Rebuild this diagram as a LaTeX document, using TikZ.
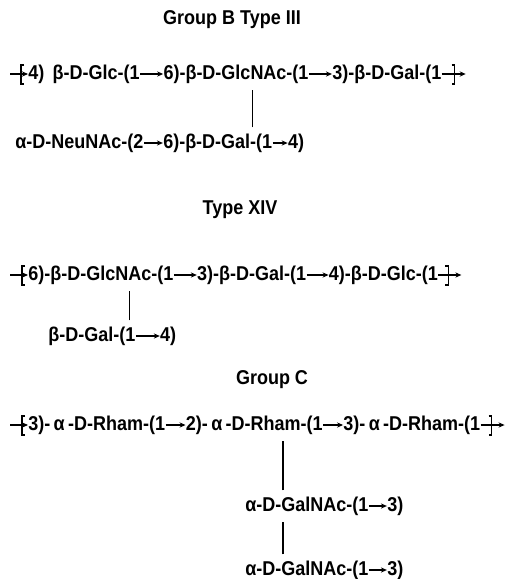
\documentclass[tikz,border=0pt]{standalone}
\usepackage{fontspec}
\setmainfont{Liberation Sans}[FakeStretch=0.9]
\usetikzlibrary{positioning, arrows.meta}

\begin{document}
\begin{tikzpicture}[
  x=0.5pt, y=-0.5pt,
  node distance = 0pt and 11pt,
  >={Stealth[length=3pt,width=2.6pt]},
  titleNode/.style  ={inner sep=0pt, font=\fontsize{10}{12}\selectfont\bfseries},
  unitNode/.style   ={inner sep=0pt, font=\fontsize{10}{12}\selectfont\bfseries},
  link/.style       ={->, line width=0.6pt},
  branch/.style     ={line width=0.6pt, shorten <=3pt, shorten >=3pt},
  openBr/.pic       ={\draw[line width=0.6pt] (3,-9) -- (0,-9) -- (0,10) -- (3,10);},
  closeBr/.pic      ={\draw[line width=0.6pt] (-3,-9) -- (0,-9) -- (0,10) -- (-3,10);}
]
\useasboundingbox (0,0) rectangle (519,579);

% ================== GROUP B TYPE III ==================
\node[titleNode] (titleB) at (232,20) {Group B Type III};

\coordinate (bStart) at (10,74);
\node[unitNode, anchor=west] (B1a) at (28,74) {4)\, β-D-Glc-(1};
\node[unitNode, right=11.5pt of B1a] (B1b) {6)-β-D-GlcNAc-(1};
\node[unitNode, right=11.5pt of B1b] (B1c) {3)-β-D-Gal-(1};
\coordinate[right=12pt of B1c] (bEnd);
\pic at (21,74) {openBr};
\pic at ([xshift=6.5pt]B1c.east) {closeBr};

\draw[link] (bStart) -- (B1a);
\draw[link] (B1a) -- (B1b);
\draw[link] (B1b) -- (B1c);
\draw[link] (B1c) -- (bEnd);

\node[unitNode, anchor=west] (B2a) at (15,143) {α-D-NeuNAc-(2};
\node[unitNode, right=9.5pt of B2a] (B2b) {6)-β-D-Gal-(1};
\node[unitNode, right=7.5pt of B2b] (B2c) {4)};

\draw[link] (B2a) -- (B2b);
\draw[link] (B2b) -- (B2c);
\draw[branch] ([xshift=-10pt]B2b.north east) -- ([xshift=-10pt]B2b.north east |- B1b.south);

% ================== TYPE XIV ==================
\node[titleNode] (titleXIV) at (240,210) {Type XIV};

\coordinate (xStart) at (10,275);
\node[unitNode, anchor=west] (X1a) at (28,275) {6)-β-D-GlcNAc-(1};
\node[unitNode, right=11.5pt of X1a] (X1b) {3)-β-D-Gal-(1};
\node[unitNode, right=11pt of X1b] (X1c) {4)-β-D-Glc-(1};
\coordinate[right=11.5pt of X1c] (xEnd);
\pic at (22,275) {openBr};
\pic at ([xshift=5pt]X1c.east) {closeBr};

\draw[link] (xStart) -- (X1a);
\draw[link] (X1a) -- (X1b);
\draw[link] (X1b) -- (X1c);
\draw[link] (X1c) -- (xEnd);

\node[unitNode, anchor=west] (X2a) at (48,336) {β-D-Gal-(1};
\node[unitNode, right=12pt of X2a] (X2b) {4)};

\draw[link] (X2a) -- (X2b);
\draw[branch] ([xshift=-3pt]X2a.north east) -- ([xshift=-3pt]X2a.north east |- X1a.south);

% ================== GROUP C ==================
\node[titleNode] (titleC) at (272,380) {Group C};

\coordinate (cStart) at (10,425);
\node[unitNode, anchor=west] (C1a) at (28,425) {3)-\,α\,-D-Rham-(1};
\node[unitNode, right=10pt of C1a] (C1b) {2)-\,α\,-D-Rham-(1};
\node[unitNode, right=10pt of C1b] (C1c) {3)-\,α\,-D-Rham-(1};
\coordinate[right=12pt of C1c] (cEnd);
\pic at ([xshift=5.5pt]C1c.east) {closeBr};
\pic at (22,425) {openBr};

\draw[link] (cStart) -- (C1a);
\draw[link] (C1a) -- (C1b);
\draw[link] (C1b) -- (C1c);
\draw[link] (C1c) -- (cEnd);

\node[unitNode, anchor=west] (C2a) at (245,506) {α-D-GalNAc-(1};
\node[unitNode, right=9pt of C2a] (C2b) {3)};
\node[unitNode, anchor=west] (C3a) at (245,570) {α-D-GalNAc-(1};
\node[unitNode, right=9pt of C3a] (C3b) {3)};

\draw[link] (C2a) -- (C2b);
\draw[link] (C3a) -- (C3b);
\draw[branch] ([xshift=19pt]C2a.north west) -- ([xshift=19pt]C2a.north west |- C1b.south);
\draw[branch] ([xshift=19pt]C3a.north west) -- ([xshift=19pt]C3a.north west |- C2a.south);

\end{tikzpicture}
\end{document}
